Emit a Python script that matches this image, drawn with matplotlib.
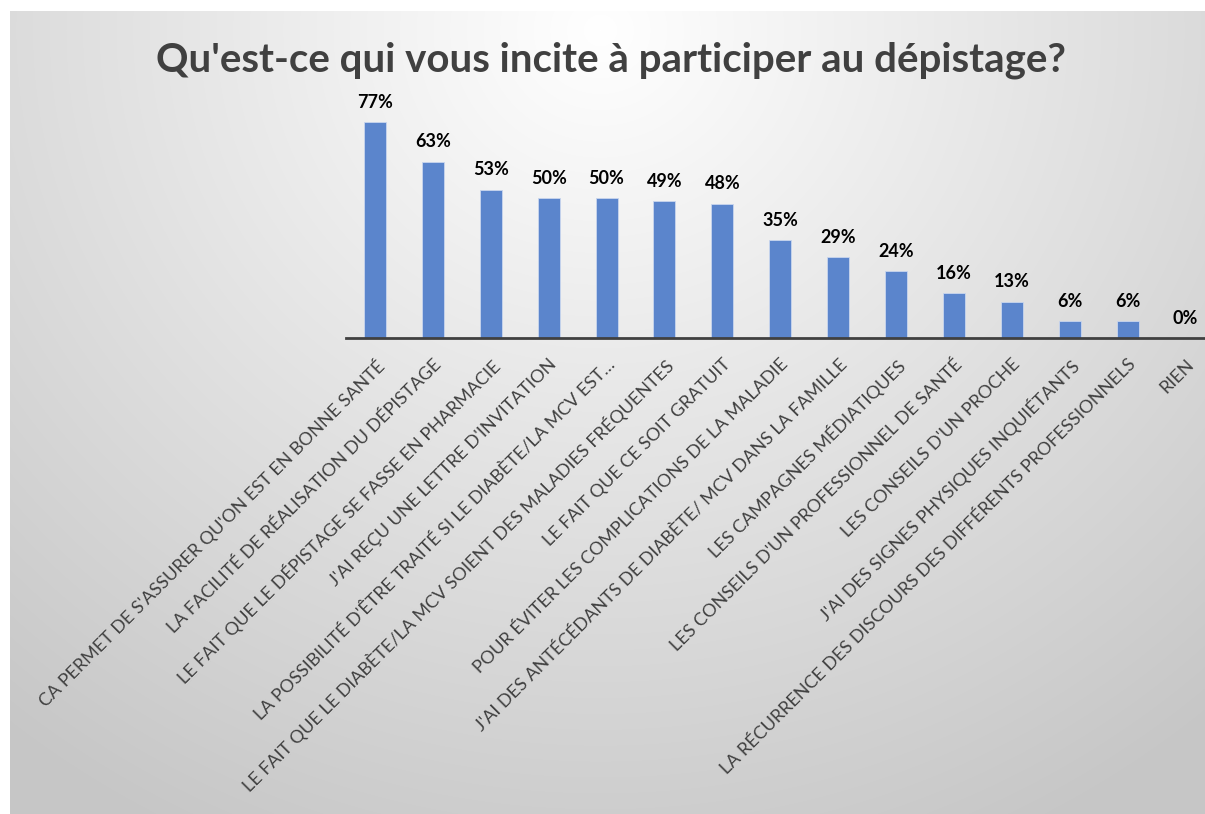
import numpy as np
import matplotlib
matplotlib.use('Agg')
import matplotlib.pyplot as plt

# Data
categories = [
    "CA PERMET DE S'ASSURER QU'ON EST EN BONNE SANTÉ",
    "LA FACILITÉ DE RÉALISATION DU DÉPISTAGE",
    "LE FAIT QUE LE DÉPISTAGE SE FASSE EN PHARMACIE",
    "J'AI REÇU UNE LETTRE D'INVITATION",
    "LA POSSIBILITÉ D'ÊTRE TRAITÉ SI LE DIABÈTE/LA MCV EST…",
    "LE FAIT QUE LE DIABÈTE/LA MCV SOIENT DES MALADIES FRÉQUENTES",
    "LE FAIT QUE CE SOIT GRATUIT",
    "POUR ÉVITER LES COMPLICATIONS DE LA MALADIE",
    "J'AI DES ANTÉCÉDANTS DE DIABÈTE/ MCV DANS LA FAMILLE",
    "LES CAMPAGNES MÉDIATIQUES",
    "LES CONSEILS D'UN PROFESSIONNEL DE SANTÉ",
    "LES CONSEILS D'UN PROCHE",
    "J'AI DES SIGNES PHYSIQUES INQUIÉTANTS",
    "LA RÉCURRENCE DES DISCOURS DES DIFFÉRENTS PROFESSIONNELS",
    "RIEN",
]
values = [77, 63, 53, 50, 50, 49, 48, 35, 29, 24, 16, 13, 6, 6, 0]
title = "Qu'est-ce qui vous incite à participer au dépistage?"

W, H = 1205, 814
fig = plt.figure(figsize=(W / 100, H / 100), dpi=100)
fig.patch.set_facecolor('white')

# gradient background (light at top centre, grey towards the corners)
bg = fig.add_axes([10 / W, 0, 1 - 10 / W, 1 - 11 / H])
yy, xx = np.mgrid[11:H, 10:W]
d = np.sqrt((xx - 600.0) ** 2 + ((yy - 30.0) * 1.05) ** 2)
g = np.clip(1.0 - 0.000235 * d, 0.78, 1.0)
bg.imshow(np.dstack([g, g, g]), aspect='auto', interpolation='bilinear')
bg.axis('off')

# bar axes
x0, baseline = 346, 338
step = 57.9
ax_w = W - x0
ax = fig.add_axes([x0 / W, (H - baseline) / H, ax_w / W, 238 / H])
ax.patch.set_alpha(0)
x = np.arange(len(values))
ax.bar(x, values, width=0.38, color='#5B85CC', edgecolor='#c9d6ee', linewidth=0.6, zorder=2)
ax.set_xlim(-0.5, -0.5 + ax_w / step)
ax.set_ylim(0, 85)

for s in ['top', 'right', 'left']:
    ax.spines[s].set_visible(False)
ax.spines['bottom'].set_color('#404040')
ax.spines['bottom'].set_linewidth(2)
ax.set_yticks([])
ax.set_xticks(x)
ax.set_xticklabels(categories, rotation=45, ha='right', rotation_mode='anchor',
                   fontsize=13, color='#404040', family='Lato')
ax.tick_params(axis='x', length=0, pad=13)

for xi, v in zip(x, values):
    ax.annotate(f"{v}%", (xi, v), xytext=(0, 8), textcoords='offset points',
                ha='center', va='bottom', fontsize=13, fontweight='bold',
                color='black', family='Lato')

fig.text(611 / W, 1 - 60 / H, title, ha='center', va='center', fontsize=29,
         fontweight='bold', color='#404040', family='Lato')

fig.savefig('out.png', dpi=100)
